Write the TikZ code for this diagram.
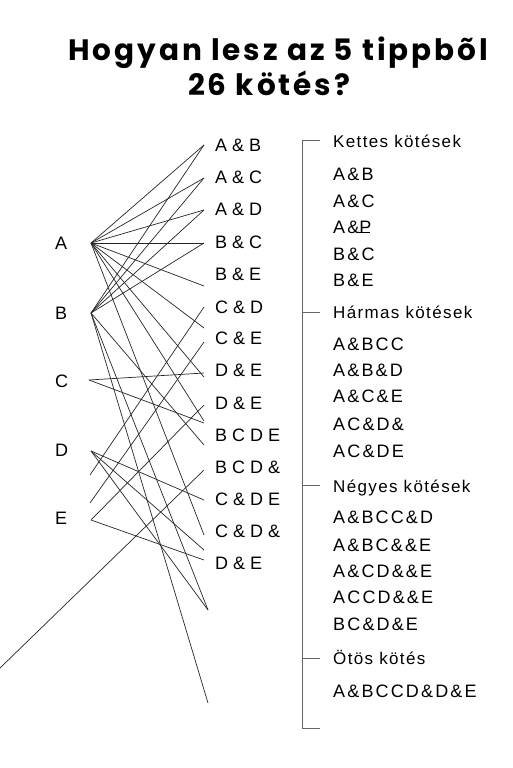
\documentclass[tikz,border=0pt]{standalone}
\usepackage{fontspec}
\setmainfont{Liberation Sans}
\newfontfamily\titlefont{Poppins}[LetterSpace=10]
\newfontfamily\hdrfont{Liberation Sans}[LetterSpace=8]
\newfontfamily\itemfont{Liberation Sans}[LetterSpace=12]
\tikzset{
  lbl/.style={anchor=west, inner sep=0pt, font=\fontsize{18}{20}\selectfont},
  hdr/.style={anchor=base west, inner sep=0pt, font=\hdrfont\fontsize{17}{20}\selectfont},
  itm/.style={anchor=base west, inner sep=0pt, font=\itemfont\fontsize{18}{20}\selectfont},
  ttl/.style={anchor=base west, inner sep=0pt, font=\titlefont\bfseries\fontsize{29.5}{32}\selectfont},
  wire/.style={draw=black!85, line width=0.7pt},
  brk/.style={draw=black!60, line width=1pt}
}
\begin{document}
\begin{tikzpicture}[x=1pt,y=-1pt]
\useasboundingbox (0,0) rectangle (512,768);
\fill[white] (0,0) rectangle (512,768);
% title
\node[ttl] (t1) at (68,60) {Hogyan lesz az 5 tippbõl};
\node[ttl] (t2) at (188,95) {26 kötés?};
% left labels
\node[lbl] (A) at (55,243) {A};
\node[lbl] (B) at (55,313) {B};
\node[lbl] (C) at (55,381) {C};
\node[lbl] (D) at (55,450) {D};
\node[lbl] (E) at (55,518) {E};
% middle labels
\node[lbl] (m1) at (215,145) {A \& B};
\node[lbl] (m2) at (215,177) {A \& C};
\node[lbl] (m3) at (215,209) {A \& D};
\node[lbl] (m4) at (215,242) {B \& C};
\node[lbl] (m5) at (215,274) {B \& E};
\node[lbl] (m6) at (215,307) {C \& D};
\node[lbl] (m7) at (215,338) {C \& E};
\node[lbl] (m8) at (215,370) {D \& E};
\node[lbl] (m9) at (215,403) {D \& E};
\node[lbl] (m10) at (215,435) {B C D E};
\node[lbl] (m11) at (215,467) {B C D \&};
\node[lbl] (m12) at (215,499) {C \& D E};
\node[lbl] (m13) at (215,531) {C \& D \&};
\node[lbl] (m14) at (215,563) {D \& E};
% fan points
\coordinate (pA) at (91,243);
\coordinate (pB) at (91,313);
\coordinate (pC) at (89,380);
\coordinate (pD) at (91,451);
\coordinate (pE) at (91,520);
\coordinate (q1) at (90,475);
\coordinate (q2) at (90,503);
\coordinate (q3) at (0,668);
% right ends
\foreach \y in {145,178,210,243,286,307,328,342,373,377,405,421,423,445,470,500,535,550,560}
  \coordinate (r\y) at (204,\y);
\coordinate (r610) at (208,610);
\coordinate (r703) at (208,703);
% wires
\foreach \t in {145,178,210,243,286,328,377,421,535} \draw[wire] (pA) -- (r\t);
\foreach \t in {145,178,210,243,445,610,703} \draw[wire] (pB) -- (r\t);
\foreach \t in {373,423} \draw[wire] (pC) -- (r\t);
\foreach \t in {500,550,610} \draw[wire] (pD) -- (r\t);
\foreach \t in {405,560} \draw[wire] (pE) -- (r\t);
\draw[wire] (q1) -- (r307);
\draw[wire] (q2) -- (r342);
\draw[wire] (q3) -- (r470);
% bracket
\coordinate (b0) at (302,140);
\coordinate (b1) at (302,728);
\draw[brk] (320,140) -- (b0) -- (b1) -- (320,728);
\draw[brk] (302,312) -- (320,312);
\draw[brk] (302,485) -- (320,485);
\draw[brk] (302,658) -- (320,658);
% right texts
\node[hdr] (h1) at (333,147) {Kettes kötések};
\node[itm] (k1) at (333,180) {A\&B};
\node[itm] (k2) at (333,207) {A\&C};
\node[itm] (k3) at (333,233) {A\&\rlap{\rule{11pt}{1pt}}P};
\node[itm] (k4) at (333,260) {B\&C};
\node[itm] (k5) at (333,286) {B\&E};
\node[hdr] (h2) at (333,318) {Hármas kötések};
\node[itm] (k6) at (333,350) {A\&BCC};
\node[itm] (k7) at (333,376) {A\&B\&D};
\node[itm] (k8) at (333,402) {A\&C\&E};
\node[itm] (k9) at (333,430) {AC\&D\&};
\node[itm] (k10) at (333,457) {AC\&DE};
\node[hdr] (h3) at (333,492) {Négyes kötések};
\node[itm] (k11) at (333,523) {A\&BCC\&D};
\node[itm] (k12) at (333,551) {A\&BC\&\&E};
\node[itm] (k13) at (333,577) {A\&CD\&\&E};
\node[itm] (k14) at (333,603) {ACCD\&\&E};
\node[itm] (k15) at (333,630) {BC\&D\&E};
\node[hdr] (h4) at (333,664) {Ötös kötés};
\node[itm] (k16) at (333,697) {A\&BCCD\&D\&E};
\end{tikzpicture}
\end{document}
